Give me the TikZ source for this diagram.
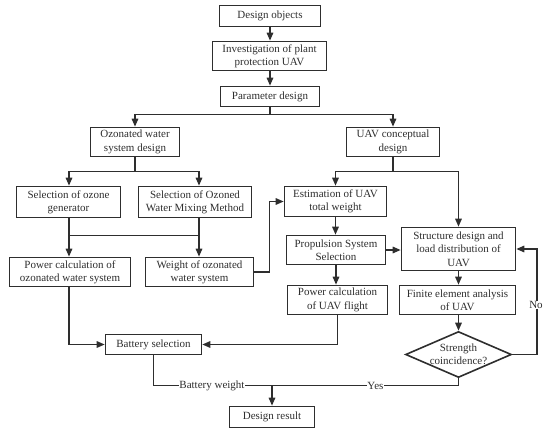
\documentclass[tikz,border=0pt]{standalone}
\usepackage{fontspec}
\setmainfont{Liberation Serif}
\usetikzlibrary{arrows.meta,shapes.geometric}
\definecolor{ink}{HTML}{2E2E2E}
\begin{document}
\begin{tikzpicture}[x=1pt,y=-1pt,
  box/.style={draw=ink,line width=1.6pt,rectangle,inner sep=0pt,align=center,text=ink,
    font=\fontsize{11}{13.3}\selectfont},
  dec/.style={draw=ink,line width=1.6pt,diamond,aspect=2.3,inner sep=0pt,align=center,text=ink,
    font=\fontsize{11}{13.3}\selectfont},
  conn/.style={draw=ink,line width=1.5pt},
  arr/.style={conn,-{Triangle[length=8pt,width=6.5pt]}},
  lab/.style={fill=white,inner sep=0.5pt,text=ink,font=\fontsize{11}{13.3}\selectfont}]
\useasboundingbox (0,0) rectangle (550,434);
% nodes
\node[box,minimum width=101pt,minimum height=21pt] (obj) at (270,16) {Design objects};
\node[box,minimum width=114pt,minimum height=29pt] (inv) at (269.5,56) {Investigation of plant\\protection UAV};
\node[box,minimum width=99pt,minimum height=20pt] (par) at (270,96.5) {Parameter design};
\node[box,minimum width=89pt,minimum height=29pt] (ozs) at (135,142) {Ozonated water\\system design};
\node[box,minimum width=93pt,minimum height=29pt] (uav) at (393,142) {UAV conceptual\\design};
\node[box,minimum width=104pt,minimum height=31pt] (gen) at (68.5,202) {Selection of ozone\\generator};
\node[box,minimum width=113pt,minimum height=31pt] (mix) at (195,202) {Selection of Ozoned\\Water Mixing Method};
\node[box,minimum width=121pt,minimum height=29pt] (pwo) at (70,272) {Power calculation of\\ozonated water system};
\node[box,minimum width=108pt,minimum height=29pt] (wgt) at (199.5,272) {Weight of ozonated\\water system};
\node[box,minimum width=102pt,minimum height=30pt] (est) at (335.5,201.5) {Estimation of UAV\\total weight};
\node[box,minimum width=99pt,minimum height=29pt] (prop) at (336,250) {Propulsion System\\Selection};
\node[box,minimum width=114pt,minimum height=43pt] (str) at (458.5,249) {Structure design and\\load distribution of\\UAV};
\node[box,minimum width=100pt,minimum height=29pt] (pwu) at (337.5,300) {Power calculation\\of UAV flight};
\node[box,minimum width=116pt,minimum height=29pt] (fea) at (457.5,300) {Finite element analysis\\of UAV};
\node[dec,minimum width=105pt,minimum height=46pt] (dia) at (458.5,354.5) {Strength\\coincidence?};
\node[box,minimum width=96pt,minimum height=20pt] (bat) at (153.5,344.5) {Battery selection};
\node[box,minimum width=85pt,minimum height=21pt] (res) at (272,417) {Design result};
% junctions
\coordinate (j1) at (270,114.5);
\coordinate (j2) at (135,171.5);
\coordinate (j3) at (393,171.5);
\coordinate (j4) at (69,235.5);
\coordinate (j5) at (199,235.5);
\coordinate (j6) at (272,385.5);
\coordinate (j7) at (537,354.5);
% connectors
\draw[arr] (obj) -- (obj.south |- inv.north);
\draw[arr] (obj.south |- inv.south) -- (par);
\draw[conn] (par.south) -- (j1);
\draw[arr] (j1) -| (ozs.north);
\draw[arr] (j1) -| (uav.north);
\draw[conn] (ozs.south) -- (j2);
\draw[arr] (j2) -| (gen.north -| j4);
\draw[arr] (j2) -| (mix.north -| j5);
\draw[arr] (gen.south -| j4) -- (pwo.north -| j4);
\draw[arr] (mix.south -| j5) -- (wgt.north -| j5);
\draw[conn] (j4) -- (j5);
\draw[arr] (wgt.east) -- ++(15,0) |- (est.west);
\draw[conn] (uav.south) -- (j3);
\draw[arr] (j3) -| (est.north);
\draw[arr] (j3) -| (str.north);
\draw[arr] (est) -- (est.south |- prop.north);
\draw[arr] (prop.east) -- (prop.east -| str.west);
\draw[arr] (prop) -- (pwu.north -| prop);
\draw[arr] (str.south) -- (str.south |- fea.north);
\draw[arr] (fea.south -| dia) -- (dia.north);
\draw[arr] (dia.east) -- (j7) |- (str.east);
\node[lab] (no) at (536,305) {No};
\draw[arr] (pwo.south -| j4) |- (bat.west);
\draw[arr] (pwu.south) |- (bat.east);
\draw[conn] (bat.south) |- (j6);
\draw[conn] (dia.south) |- (j6);
\node[lab] (bw) at (212,385.5) {Battery weight};
\node[lab] (yes) at (375.5,385.5) {Yes};
\draw[arr] (j6) -- (res.north);
\end{tikzpicture}
\end{document}
